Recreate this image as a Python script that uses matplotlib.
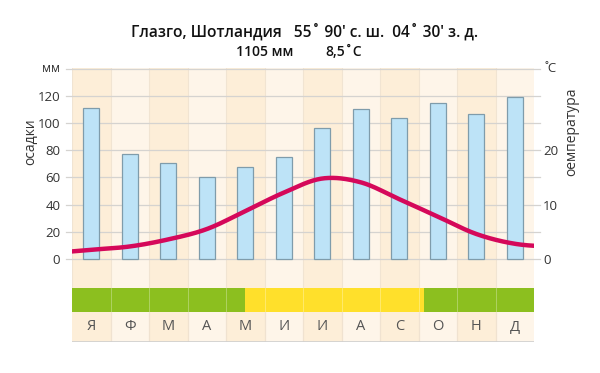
import numpy as np
import matplotlib
matplotlib.use("Agg")
import matplotlib.pyplot as plt

plt.rcParams['font.family'] = ['Open Sans', 'DejaVu Sans']

months = ['Я', 'Ф', 'М', 'А', 'М', 'И', 'И', 'А', 'С', 'О', 'Н', 'Д']
precip_mm = [111, 77.5, 70.5, 60, 68, 75, 96, 110, 104, 115, 107, 119]
temp_c = [1.7, 2.3, 3.6, 5.5, 8.8, 12.2, 14.8, 14.1, 11.0, 7.8, 4.6, 2.8]
mm_ticks = [0, 20, 40, 60, 80, 100, 120]
c_ticks = [0, 10, 20]
title = "Глазго, Шотландия   55˚ 90' с. ш.  04˚ 30' з. д."
subtitle_mm = "1105 мм"
subtitle_t = "8,5˚C"
# growing season: month index boundaries of the yellow (warm) band
warm_start, warm_end = 4.0, 8.65

W, H = 600, 373
fig = plt.figure(figsize=(W / 100, H / 100), dpi=100)
fig.patch.set_facecolor('white')

def fx(px):
    return px / W

def fy(py):
    return 1 - py / H

x0, x1 = 72, 534
ax = fig.add_axes([fx(x0), fy(288), fx(x1 - x0), fy(68) - fy(288)])
ymax = 140.5
ymin = -(288 - 259) / 1.3585
ax.set_xlim(-0.5, 11.5)
ax.set_ylim(ymin, ymax)
for s in ax.spines.values():
    s.set_visible(False)
ax.set_facecolor('none')

n = len(months)
x = np.arange(n)
# column background
col_a, col_b = '#fdeed8', '#fef5e9'
for i in range(n):
    ax.axvspan(i - 0.5, i + 0.5, color=col_a if i % 2 == 0 else col_b, lw=0, zorder=0)
    ax.axvline(i - 0.5, color='#f1e4d2', lw=0.8, zorder=0.5)

# horizontal grid lines (extend a bit beyond axes)
for v in list(mm_ticks) + [140]:
    ax.plot([-0.65, 11.65], [v, v], color='#d5d3d0', lw=0.9, zorder=1, clip_on=False)

ax.set_yticks(mm_ticks)
ax.set_yticklabels([str(t) for t in mm_ticks], fontsize=9.5, color='#333333')
ax.tick_params(axis='y', length=0, pad=8.5)
ax.set_xticks([])

ax.text(-0.8, 140, 'мм', ha='right', va='center', fontsize=9, color='#333333')
fig.text(fx(31), fy(142), 'осадки', rotation=90, ha='center', va='center',
         fontsize=10, color='#333333')

# bars
ax.bar(x, precip_mm, width=0.42, color='#bde3f7', edgecolor='#7f9cab', lw=0.9, zorder=2)

# temperature axis
ax2 = ax.twinx()
ax2.set_ylim(ymin / 4, ymax / 4)
for s in ax2.spines.values():
    s.set_visible(False)
ax2.set_yticks(c_ticks)
ax2.set_yticklabels([str(t) for t in c_ticks], fontsize=9.5, color='#333333')
ax2.tick_params(axis='y', length=0, pad=6.5)
ax2.text(11.78, 35, '˚C', ha='left', va='center', fontsize=9.5, color='#333333')
fig.text(fx(572), fy(132), 'оемпература', rotation=90, ha='center', va='center',
         fontsize=10, color='#333333')

# smooth temperature curve (Catmull-Rom through monthly values)
t = np.array(temp_c, dtype=float)
pm1 = t[0] + 1.0 * (t[0] - t[1])
pm2 = 2 * pm1 - t[0]
pp1 = t[-1] + 0.3 * (t[-1] - t[-2])
pp2 = pp1 + 0.3 * (pp1 - t[-1])
P = np.concatenate([[pm2, pm1], t, [pp1, pp2]])
X = np.arange(-2, n + 2)
xs, ys = [], []
for i in range(1, len(P) - 2):
    p0, p1, p2, p3 = P[i - 1], P[i], P[i + 1], P[i + 2]
    u = np.linspace(0, 1, 30)
    yv = 0.5 * ((2 * p1) + (-p0 + p2) * u + (2 * p0 - 5 * p1 + 4 * p2 - p3) * u ** 2
                + (-p0 + 3 * p1 - 3 * p2 + p3) * u ** 3)
    xs.append(X[i] + u)
    ys.append(yv)
xs = np.concatenate(xs)
ys = np.concatenate(ys)
ax2.plot(xs, ys, color='#d5085a', lw=3.2, zorder=5, solid_capstyle='butt')
ax2.set_xlim(-0.5, 11.5)

# season band
axb = fig.add_axes([fx(x0), fy(312), fx(x1 - x0), fy(288) - fy(312)])
axb.set_xlim(-0.5, 11.5)
axb.set_ylim(0, 1)
axb.axis('off')
axb.axvspan(-0.5, warm_start, color='#8cbf1f', lw=0)
axb.axvspan(warm_start, warm_end, color='#ffe02b', lw=0)
axb.axvspan(warm_end, 11.5, color='#8cbf1f', lw=0)
for i in range(1, n):
    axb.axvline(i - 0.5, color='white', lw=0.6, alpha=0.35)

# month label row
axl = fig.add_axes([fx(x0), fy(342), fx(x1 - x0), fy(312) - fy(342)])
axl.set_xlim(-0.5, 11.5)
axl.set_ylim(0, 1)
axl.axis('off')
for i in range(n):
    axl.axvspan(i - 0.5, i + 0.5, color=col_a if i % 2 == 0 else col_b, lw=0)
    if i > 0:
        axl.axvline(i - 0.5, color='#f0e2d0', lw=0.9)
    axl.text(i, 0.5, months[i], ha='center', va='center', fontsize=10.5, color='#555555')
axl.axhline(0, color='#cfcfcf', lw=1.2)

fig.text(fx(305), fy(32), title, ha='center', va='center', fontsize=11.2,
         fontweight='semibold', color='#111111')
fig.text(fx(265), fy(52), subtitle_mm, ha='center', va='center', fontsize=10,
         fontweight='semibold', color='#111111')
fig.text(fx(344), fy(52), subtitle_t, ha='center', va='center', fontsize=10,
         fontweight='semibold', color='#111111')

fig.savefig('out.png', dpi=100, facecolor='white')
